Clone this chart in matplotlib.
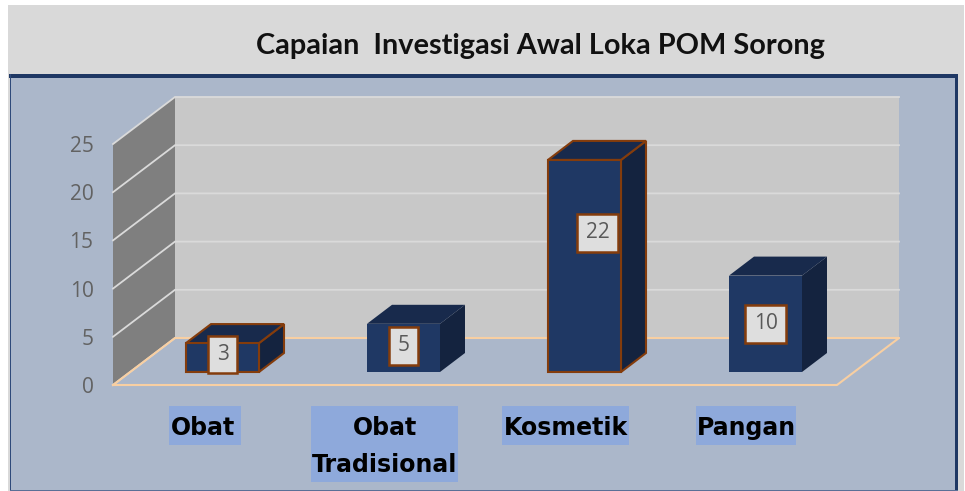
import numpy as np
import matplotlib.pyplot as plt
from matplotlib.patches import Rectangle

categories = ['Obat', 'Obat\nTradisional', 'Kosmetik', 'Pangan']
values = [3, 5, 22, 10]
y_ticks = [0, 5, 10, 15, 20, 25]
title = 'Capaian  Investigasi Awal Loka POM Sorong'

W, H = 965, 491
plt.rcParams['font.family'] = ['Open Sans', 'DejaVu Sans']

fig = plt.figure(figsize=(W / 100, H / 100), dpi=100, facecolor='white')


def frect(x0, y0, x1, y1, **kw):
    # rectangle in image pixels (y goes down)
    fig.add_artist(Rectangle((x0 / W, 1 - y1 / H), (x1 - x0) / W, (y1 - y0) / H,
                             transform=fig.transFigure, zorder=-1, **kw))


frect(8, 5, 964, 491, fc='#D9D9D9', ec='none')
frect(10, 75, 957, 491, fc='#ABB7CA', ec='none')
frect(9, 74, 958, 78, fc='#1F3864', ec='none')
frect(10, 74, 11, 491, fc='#2F4A7A', ec='none')
frect(955, 74, 958, 491, fc='#1F3864', ec='none')
frect(10, 490, 958, 491, fc='#5A6F96', ec='none')
fig.text(540 / W, 1 - 46 / H, title, ha='center', va='center', fontsize=20.8,
         fontweight='bold', color='#111111', family=['Lato', 'DejaVu Sans'])

ax = fig.add_axes([113 / W, 1 - 385 / H, 724 / W, 241 / H])
ax.set_xlim(-0.5, 3.5)
ax.set_ylim(0, 25)
ax.patch.set_visible(False)
for s in ax.spines.values():
    s.set_visible(False)

# one image pixel in data units
px = 1 / 181
py = 25 / 241
wall_dx, wall_dy = 62 * px, 47 * py
x0, x1 = -0.5, 3.5

# walls and floor
ax.fill([x0 + wall_dx, x1 + wall_dx, x1 + wall_dx, x0 + wall_dx],
        [wall_dy, wall_dy, 25 + wall_dy, 25 + wall_dy], color='#C8C8C8', lw=0, zorder=1, clip_on=False)
ax.fill([x0, x0 + wall_dx, x0 + wall_dx, x0], [0, wall_dy, 25 + wall_dy, 25],
        color='#7F7F7F', lw=0, zorder=1, clip_on=False)
for t in y_ticks:
    ax.plot([x0, x0 + wall_dx, x1 + wall_dx], [t, t + wall_dy, t + wall_dy], color='#DADADA',
            lw=1.3, zorder=2, clip_on=False, solid_joinstyle='miter')
ax.plot([x0, x1, x1 + wall_dx, x0 + wall_dx, x0], [0, 0, wall_dy, wall_dy, 0],
        color='#F8CFA2', lw=1.5, zorder=2, clip_on=False)

# bars
bar_w = 73 * px
bar_shift = 19 * px
bar_base = 13 * py
depth_x, depth_y = 25 * px, 19 * py
edge_colors = ['#843C0C', 'none', '#843C0C', 'none']
label_dx = [0, 0, 13, 0]
label_dy = [3, 2, 33, 0]

for i, v in enumerate(values):
    left = i + bar_shift - bar_w / 2
    right = left + bar_w
    bottom = bar_base
    top = bottom + v
    ec = edge_colors[i]
    ax.fill([right, right + depth_x, right + depth_x, right],
            [bottom, bottom + depth_y, top + depth_y, top],
            fc='#14233F', ec=ec, lw=1.5, zorder=3, clip_on=False)
    ax.fill([left, right, right + depth_x, left + depth_x],
            [top, top, top + depth_y, top + depth_y],
            fc='#182A4C', ec=ec, lw=1.5, zorder=3, clip_on=False)
    ax.bar(i + bar_shift, v, width=bar_w, bottom=bottom, color='#1F3864', edgecolor=ec,
           linewidth=1.5, zorder=4, clip_on=False)
    ax.annotate(str(v), (i + bar_shift, bottom + v / 2), xytext=(label_dx[i] * 0.72, label_dy[i] * 0.72),
                textcoords='offset points', ha='center', va='center', fontsize=15, color='#595959',
                zorder=6, bbox=dict(boxstyle='square,pad=0.4', fc='#DEDEDE', ec='#843C0C', lw=1.8))

ax.set_yticks(y_ticks)
ax.set_yticklabels([str(t) for t in y_ticks], fontsize=15, color='#626262')
ax.tick_params(axis='y', length=0, pad=14)
ax.set_xticks(range(len(categories)))
ax.set_xticklabels(categories, fontsize=17, fontweight='bold', color='black', linespacing=1.7,
                   family=['DejaVu Sans'])
ax.tick_params(axis='x', length=0, pad=22)

# highlight behind the category labels, taller than the text itself
fig.canvas.draw()
left_pad = [2, 1, 1, 1]
right_pad = [5, 1, 1, 0]
for lab, lp, rp in zip(ax.get_xticklabels(), left_pad, right_pad):
    bb = lab.get_window_extent()
    fig.add_artist(Rectangle((bb.x0 - lp, bb.y0 - 5), bb.width + lp + rp, bb.height + 15, transform=None,
                             fc='#8EA9DB', ec='none', zorder=-0.5))

fig.savefig('out.png', dpi=100)
